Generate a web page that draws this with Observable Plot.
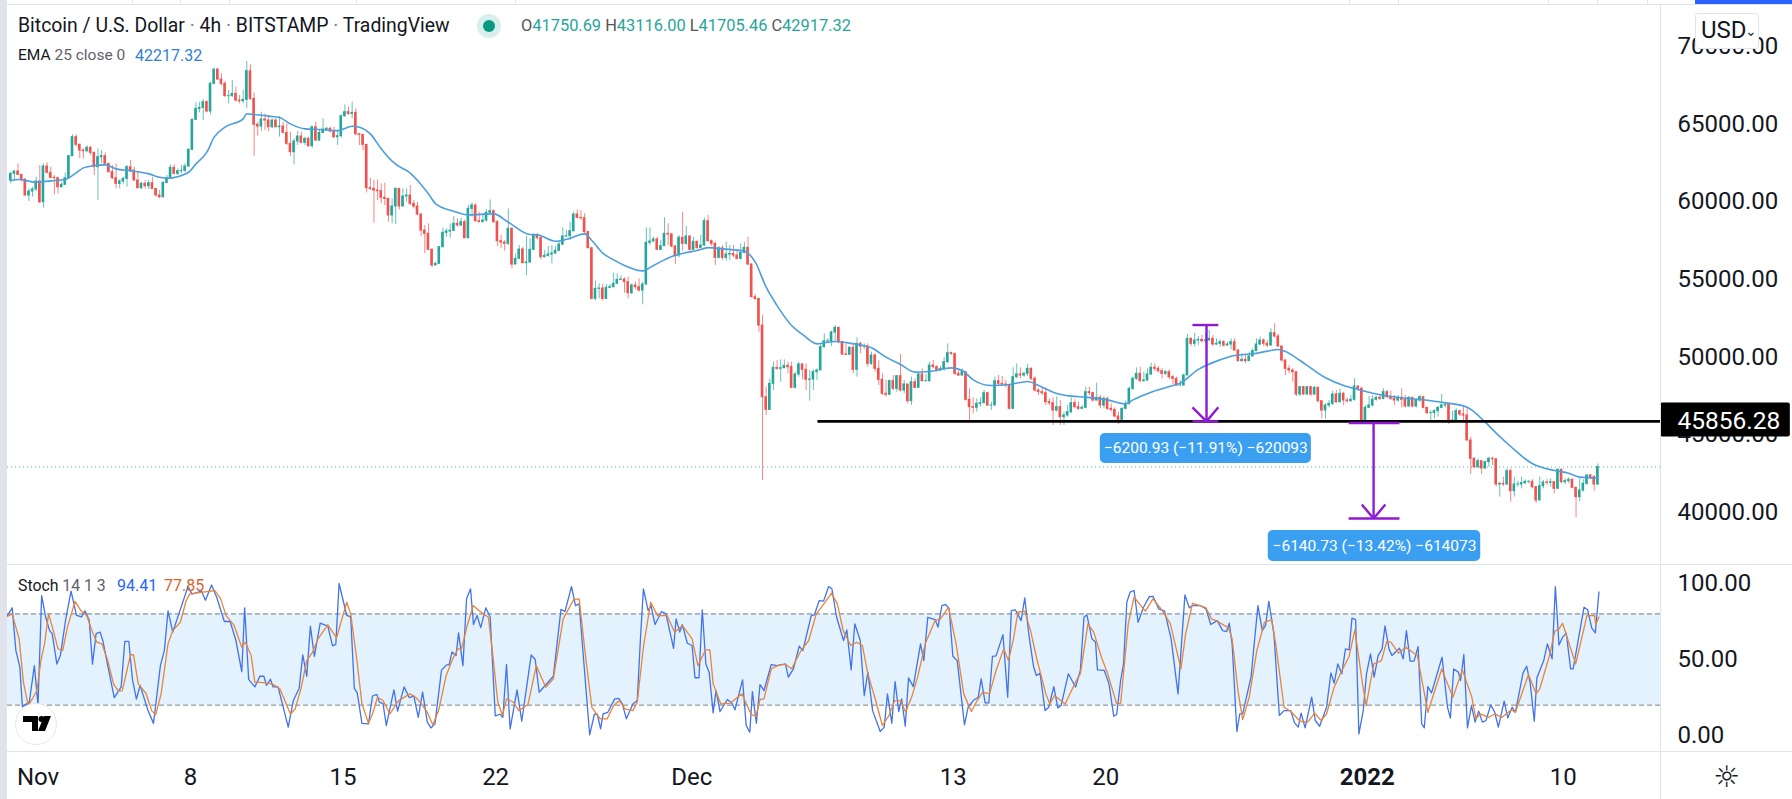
<!DOCTYPE html>
<html><head><meta charset="utf-8">
<script src="https://cdn.jsdelivr.net/npm/d3@7"></script>
<script src="https://cdn.jsdelivr.net/npm/@observablehq/plot@0.6"></script>
<style>
html,body{margin:0;padding:0;background:#fff}
#wrap{position:relative;width:1792px;height:799px;overflow:hidden;font-family:Roboto,sans-serif;color:#131722}
#wrap svg{display:block;position:relative}
.o{position:absolute;white-space:nowrap;line-height:1}
</style></head><body><div id="wrap"></div>
<script>
const firstOpen=61356;
const closes=[61785,61935,61720,61420,60391,60648,60777,61292,59962,62257,61850,61528,61506,60927,61077,61506,62922,64145,63651,63287,63244,63458,63137,62214,62858,62922,62429,61893,61506,61142,61292,61464,62214,62000,61356,60863,61142,60992,61185,60820,60391,60284,61206,61506,62171,61785,61957,61978,62257,63330,65260,65968,66032,66397,65796,67577,68499,67856,67577,66783,66783,66933,66504,66461,66547,68392,66612,64938,64831,65282,65217,64788,65217,64788,64831,64424,63716,63180,63866,64188,63780,64037,63565,64788,63930,64424,64638,64681,64509,64145,64209,65496,65754,65646,65711,64338,64295,63651,60863,
60820,60713,60670,60241,60177,59104,59683,60820,59683,60327,60391,59855,59683,59169,58139,57925,56895,55887,55994,57066,57989,58075,58118,58568,58461,58675,57646,59533,59748,58740,58675,58783,59276,59383,58675,57453,57367,57281,58246,55951,56316,56916,56037,56080,56895,57860,57646,56423,56509,56595,56659,56831,57238,57753,57774,58096,59169,58954,58933,58032,57002,53742,54385,54407,53742,54450,54493,54707,54964,54986,54814,54106,54600,54493,54278,54664,57345,57431,57560,56895,57131,57925,57882,57109,56530,57667,57281,57753,56895,57410,57024,57174,58740,57453,57281,56380,56981,56380,56595,56637,56530,56316,56702,57024,55951,53849,53742,52026,47414,46599,48272,49302,49237,49280,49430,49345,48015,48873,49516,
49174,48530,48552,49024,49131,50632,51019,51019,51576,51877,50954,50161,50139,50590,49174,50847,50675,50675,49560,50096,49238,48530,47630,47565,48445,47951,48766,47844,48230,47158,48380,48016,48874,48445,48445,49453,49345,49131,49238,49667,50246,50204,48917,48809,49024,47243,46772,46729,46986,47029,47672,46879,46879,48445,48273,48230,48166,46664,48702,48874,48809,48917,49238,48595,47844,47737,47672,47093,47029,46557,46772,46128,46235,46450,47029,46772,46664,46729,47737,47672,47200,47372,46879,47308,46664,46600,46171,45956,46664,46986,47951,48595,48917,48445,48488,48874,49303,49238,49088,48917,49024,48702,48595,48166,48166,48809,51169,50847,51061,51104,
51019,51062,51169,50805,50847,50955,50740,50805,50955,50419,49732,49818,49732,50032,50376,50805,51062,50847,50740,51534,51319,50676,49775,49239,49132,49024,47587,48059,47587,48059,47587,48016,47158,46558,46879,46987,47587,47094,47630,47201,47158,47244,48102,47952,45700,46729,46879,47244,47373,47308,47737,47416,47308,47201,47373,47244,46815,47373,46815,47201,47416,46729,46386,46386,46515,46729,46879,46922,45807,45914,46515,46300,46236,44627,43447,42911,43297,42825,43233,43447,43426,41796,41838,41796,42654,41367,41796,41796,41881,41967,41967,41624,40766,41688,41924,41903,41946,41517,42739,41946,42010,42096,41581,40980,41410,41839,42375,42268,41796,42917];
const highs=[61893,62000,62429,61721,61421,60820,60927,61571,62322,62429,62493,62214,61678,61571,61249,61850,62965,64295,64295,63716,63394,63608,63565,63180,63394,63287,63137,62429,62322,62429,61421,61571,62322,62643,62214,61893,61249,61356,61356,61571,60820,60713,61292,61678,62364,62364,62107,62322,62429,63394,65325,66354,66397,66569,66504,67684,68542,68542,68220,67727,67148,67791,67362,66826,67148,69014,68799,66998,65110,65754,65646,65539,65325,65325,65475,65110,65003,64467,64037,64509,64467,64145,64145,64853,65110,64574,65325,64788,64788,64788,64574,65539,66225,66075,66397,65968,64359,64252,63651,
61500,61357,61399,61142,61185,60177,60177,60885,60820,60820,60820,61035,60070,59962,59211,58461,58568,56959,56101,57109,58311,58246,58568,59040,58890,58933,58825,59748,59919,59855,59319,59212,59469,60112,59469,58783,57817,57496,59533,58311,56637,57174,57067,57753,57603,57925,57925,57710,56852,57109,57174,57109,57453,58311,58139,58675,59319,59469,59426,59212,58096,57002,54879,54707,54664,54664,54664,55393,55350,55243,55093,55136,54707,54814,55029,54814,58311,58311,57710,57710,57496,58954,58568,57967,57174,57817,59319,58396,57817,57710,57453,57817,58933,59104,57538,57388,57109,57174,57388,57174,57174,56852,57281,57388,57710,55994,54021,53742,52669,48058,48594,49666,49773,49816,49816,49666,49666,49023,49666,
49560,49560,49131,49174,49238,50847,51490,51169,51662,52027,51920,51019,50847,50675,50847,51233,50954,50847,50847,50311,50204,49774,48917,48488,48530,48809,48809,50161,48488,48230,48702,48595,48959,49238,48874,49667,49775,49453,49388,49946,50847,50311,50204,49238,49238,49024,47951,47372,47308,47372,47844,47737,47093,48702,48809,48745,48488,48230,49303,49560,49303,49024,49517,49303,48745,47951,48016,48016,47308,47372,47415,47200,46450,46879,47372,47243,47093,46879,48058,48058,47737,48316,47522,47458,47415,46986,46729,46450,46729,47158,48058,48702,49303,49346,49024,49238,49603,49560,49388,49238,49131,49174,48809,48702,48488,48917,51448,51233,51533,51319,
51384,51534,51705,51384,51169,51105,51062,50955,51169,51169,50461,50204,50097,50311,50526,51169,51276,51169,51062,51813,52134,51448,50676,49818,49453,49239,49024,48102,48102,48102,48102,48102,48059,47158,46987,47201,47802,47845,47952,47737,47373,47523,48595,48102,48059,46879,47458,47523,47458,47523,47952,47845,47802,47523,47523,47952,47523,47458,47373,47308,47523,47416,46729,46558,46600,46815,47587,47094,46987,46515,46665,46558,46815,46665,44842,43512,43447,43233,43297,43555,43555,43126,41946,42268,42804,42804,42268,42010,42268,42096,42053,42096,41667,42268,42053,42096,42160,41946,42804,42804,42160,42225,42160,41624,42160,42096,42439,42439,42375,43116];
const lows=[61142,61292,61678,61249,60348,60005,60284,60648,59855,59576,61785,61464,60434,60498,60863,61077,61464,62922,63501,62750,62750,63137,62965,61678,60069,62429,62364,61850,61421,60820,60820,61077,60927,61893,61292,60820,60777,60820,60777,60777,60284,60177,60220,61142,61464,61721,61678,61785,61893,62214,63287,65217,65711,65217,65711,65582,67512,67791,67427,66719,66290,66719,66397,66290,66290,66011,66504,62922,64209,64509,64574,64509,64681,64724,64145,64359,63608,62901,62364,63608,63716,63608,63501,63437,63866,63866,64359,64509,64424,64037,63608,64080,65432,65539,65325,64252,63608,63287,60563,
60713,58611,60070,59855,59748,58675,58568,58525,59469,59641,59962,59748,59533,59104,57753,56637,56852,55737,55887,55994,57024,57710,57646,58096,58354,58396,57603,57603,58997,58675,58675,58675,58675,59212,58611,57109,56959,56809,57174,55672,55994,56251,55994,55243,56037,56852,57539,56251,56380,56423,55994,56595,56788,57174,57710,57496,58032,58890,58783,57925,56959,53677,53635,53742,53592,53742,54385,54450,54707,54921,54106,53742,54021,54321,54171,53356,54600,57174,57388,56852,56852,57109,57174,57024,55951,56380,56809,57174,56809,56852,56895,56959,57109,57388,57109,55887,56316,56208,56166,56208,56380,56251,56251,56637,55887,53806,53635,51597,42053,46234,46556,47843,49130,48379,49237,48916,47950,47950,48701,
48530,47844,47158,47844,48488,49131,50590,50890,50675,50954,50847,50096,50096,50096,48916,48702,50203,50461,49346,49453,49024,48166,47522,47415,47522,47844,47737,47737,47630,46986,46879,47951,48016,48380,48380,48380,49238,49024,49088,49088,49560,50096,48809,48745,48745,47158,45913,46342,46450,46772,46986,46815,46557,46879,48166,48101,48016,46600,46664,48595,48595,48702,48745,48488,47737,47522,47522,46879,46879,45592,46450,45592,45592,46128,46342,46664,46557,46600,46664,47522,47093,47158,46664,46664,46557,46450,46085,45656,45956,46600,46879,47844,48488,48380,48380,48445,48809,49088,48959,48595,48809,48530,48230,48101,48101,48166,48809,50675,50632,50740,
50890,50848,51019,50676,50740,50633,50633,50676,50461,50376,49668,49668,49561,49732,50032,50376,50740,50676,50590,50676,51234,50633,49668,48810,48917,48381,47458,47458,47523,47523,47458,47523,47029,46021,46021,46729,46879,46987,47029,46879,47029,47094,47158,47802,45657,45657,46665,46772,47158,47201,47244,47308,47201,46879,47094,46729,46729,46772,46729,46729,47094,46665,46300,45807,46021,46129,46665,46729,45657,45807,45871,46172,45914,44584,42439,42804,42804,42439,42804,42911,43018,41624,40980,41667,41731,40659,40980,41624,41517,41796,41839,41517,40594,40766,41517,41731,41624,41195,41517,41839,41796,41839,41517,39651,40659,41303,41731,42096,41367,41731];
const emaBars=[0,2,7,11,15,18,20,23,26,29,33,38,41,43,49,51,54,56,59,64,65,67,71,74,77,81,85,90,94,96,99,102,105,108,109,112,115,117,122,126,133,137,143,145,150,154,158,160,163,166,169,174,177,182,186,189,192,196,202,205,208,211,215,218,222,224,227,232,237,241,245,249,253,259,262,265,270,275,280,283,287,292,296,302,307,309,314,320,322,327,333,337,342,346,349,351,355,362,367,371,375,383,388,395,401,406,409,413,419,425,429,432,437];
const emaVals=[61356,61420,61250,61335,61420,61850,62170,62320,62364,62107,61978,61785,61570,61506,61892,62429,63180,64145,64790,65325,65650,65600,65500,65410,65000,64680,64640,64570,64850,64790,64360,63400,62600,62110,62000,61360,60500,59855,59383,59147,59210,58675,57880,57860,57450,57645,57925,57500,56680,56250,55890,55540,55890,56470,56720,56850,57040,56960,56810,56100,54490,53310,52025,51450,50847,50910,50997,50847,50590,49990,49517,49024,49067,49300,49130,48530,48166,48230,48423,48166,47737,47480,47415,47243,46986,47243,47737,48166,48316,49200,49818,50097,50204,50376,50483,50354,49775,48660,48166,47909,47673,47373,47265,47051,46772,45807,45099,44241,43126,42696,42525,42268,42217];
const stochK=[[-0.9,79],[0.4,84],[1.4,56],[2.5,45],[3.2,19],[5.1,22],[6.5,46],[7.5,20],[8.5,92],[9.6,78],[10.7,69],[11.4,67],[12.7,47],[13.7,53],[15.1,76],[16.6,95],[18.1,79],[19.5,78],[20.4,82],[21.6,76],[22.5,47],[23.5,67],[24.6,68],[25.4,62],[26.7,46],[28.5,25],[30.4,32],[31.4,62],[32.5,62],[33.5,37],[34.6,24],[35.6,33],[37.8,16.4],[39.3,8],[41.2,46],[42.3,56],[43.3,82],[44.6,68],[46.7,83],[48.8,98],[49.9,93],[52.5,95],[53.6,89],[55.3,99],[56.7,91],[58.8,75],[60.4,75],[62,62.5],[63.6,42],[64.4,84],[65.5,37],[67.2,32],[68.6,39],[69.7,39],[70.4,33],[71.5,37],[72.2,32],[73.6,32],[76.4,5.5],[77.8,23],[79.4,31],[80.4,53],[81.5,39],[82.5,72],[83.6,52],[85.2,74],[87.3,72],[88.6,59],[89.5,60],[90.4,100],[91.5,89],[92.5,79],[93.6,78],[94.6,31],[95.4,28],[96.7,8],[98.5,7.7],[99.6,26],[100.8,27],[101.5,22],[102.5,21],[103.4,6.6],[105.5,30],[106.5,16],[108.3,32],[109.7,25],[111,26],[112.2,12],[113.4,28.5],[114.7,8.8],[115.7,5],[116.8,7.7],[118.6,43],[120,46.5],[120.7,46.5],[121.5,55],[122.6,52.6],[123.3,67.5],[124.5,46],[125.5,90],[126.6,96.5],[127.4,73],[128.4,79],[129.4,71],[130.8,84],[132,78],[133.4,13],[134.7,14],[135.5,12],[136.5,46.7],[137.5,4.4],[139.4,30],[140.7,9.4],[143.3,53],[144.4,50],[145.5,28.5],[149.4,39],[151.5,83],[152.6,81.6],[154.4,98],[155.5,85.5],[156.5,86.6],[159.4,0.4],[160.7,14],[161.5,14],[162.4,4.4],
[163.1,14.2],[164.4,15.3],[166.3,24.1],[167.4,24.5],[168.4,20.8],[169.5,11],[171.3,20.8],[172.5,23],[173.4,64.7],[174.2,96.5],[175.5,82.2],[176.3,85.5],[177.4,73],[179.2,81.6],[180.4,80],[182.5,57.4],[183.2,76.7],[184.2,68],[184.9,73],[186.3,60.7],[187.6,59.2],[188.4,38],[189.5,38],[190.4,82.7],[191.4,47],[192.3,41.7],[193.4,14.9],[194.2,29.6],[195.3,15.8],[197.3,23.7],[198.6,21.3],[199.4,16.9],[201.5,36.6],[202.5,6.6],[203.5,2.2],[204.2,28.9],[205.3,8.1],[206.3,33.5],[207.4,29.6],[209.4,46.7],[211,46],[213.3,47.1],[214.1,38.4],[215.5,43.9],[217.1,58.8],[218.1,55.9],[220.4,78.9],[221.3,79.4],[222.6,88.8],[223.8,88.4],[225.2,98],[226.1,96.5],[227.4,77.8],[229.3,62.5],[230.2,69.5],[231.4,43.2],[232.4,73.5],[233.9,62.5],[235,26.3],[236,41.7],[237.3,16.4],[239.4,2.6],[240.5,5.5],[241.4,27.4],[242.6,8.1],[243.5,35.5],[244.5,15.8],[245.3,24.1],[246.3,6.1],[247.2,37.9],[248.5,32.2],[250.5,60.3],[251.4,49.3],[252.5,77.8],[254.5,76.3],[255.3,71.3],[256.4,85.5],[257.4,86.2],[258.4,83.3],[259.4,52.2],[260.6,49.3],[262.6,7],[263.6,18.6],[265,23],[266.4,25.2],[267.2,37.3],[268.3,21.5],[269.3,21.5],[270.3,52],[271.3,52.4],[273.2,66.4],[274.5,25.2],[275.5,82.2],[276.6,82.7],[278.2,75.6],[279.2,90.6],[280.3,66.9],[281.6,45.6],[282.4,39.5],[283.4,41],[284.8,16.4],[285.8,18.6],[287.2,32.2],[288.3,18.2],[289.2,19.7],[291.2,40.6],[293.2,31.8],[294.5,42.8],[295.5,77.8],[296.3,79.4],[297.7,63.6],[298.7,61.4],[299.2,43.2],[301.1,42.8],[302.4,34],[303.7,12.7],[304.5,13.8],[305.6,36.2],[306.4,47.1],[307.3,87.7],[308.2,94.3],[309.3,95.4],[310.4,74.5],[311.9,84.4],[313.5,91.4],[314.5,91.6],[316.1,83.3],[317.7,81.8],[319.5,63.6],[321.4,27.4],[323.3,92.5],[324.5,84],[325.4,85.5],[327.5,85.5],
[329.1,83.3],[330.4,73],[332.2,75.6],[333.7,69],[334.8,68.4],[335.5,73.9],[336.3,60.3],[337.6,2.6],[338.4,14.2],[339.2,14.2],[341.5,38.4],[343.4,85.5],[344.6,69],[345.5,72.4],[346.4,88.2],[347.8,66.9],[349.3,13.2],[350.6,16.4],[352.4,16.4],[353.5,8.3],[354.5,5.5],[355.3,14.7],[356.4,5],[358.2,25.2],[359.2,9.9],[360.4,6.1],[362.3,18.6],[363.5,41.2],[364.4,34.4],[365.4,47.1],[366.5,40.6],[367.5,57],[368.5,56.3],[369.3,77.2],[370.3,76.3],[371.2,1.1],[372.4,16.4],[373.3,40.6],[374.4,53.7],[375.4,38.4],[376.5,52.6],[377.6,57],[378.4,72.1],[379.5,57],[380.3,52.6],[382.4,57.4],[383.4,50.4],[384.3,69],[385.3,48.9],[386.4,48.9],[387.5,58.5],[388.5,7.7],[389.2,5],[390.2,32.2],[391.2,28],[394.1,51.5],[395.6,18.6],[396.4,11.4],[397.3,43.8],[398.6,41.7],[399.2,36.2],[400.1,53.3],[401.1,5],[402.2,19.7],[403.2,8.8],[404.2,16],[405.2,8.8],[406.2,9.9],[407.5,20.2],[408.6,15.3],[409.6,5.5],[411.2,22.6],[412.2,11.6],[413.4,18.6],[414.3,15.3],[416.4,41.2],[417.4,45.6],[418.4,34],[419.5,9.4],[420.2,37.9],[422.1,49.3],[423.1,60.3],[424.4,50.4],[425.3,98],[426.3,59.6],[427.3,64.7],[428.3,67.3],[429.5,43.8],[430.2,43.8],[433.2,84.4],[434.2,82.7],[435.3,70.8],[436.3,67.5],[437.3,94.41]];
const stochD=[[-0.9,78.3],[0.4,80],[2.3,63.6],[3.5,35],[4.8,19.7],[6.2,25.2],[7.2,29.6],[8.3,49.3],[9.3,60.3],[10.4,80],[11.6,70.2],[13,57],[14.3,55.9],[15.6,71.3],[17.7,88.2],[19.3,82.2],[20.9,78.9],[22.5,68],[23.7,61.4],[25.1,60.3],[26.7,49.3],[28.3,34],[29.6,29.2],[30.7,29.6],[33,53.3],[33.8,53],[35.1,34],[37.2,27.8],[38.8,16.4],[39.9,13.6],[41.4,27.4],[43.3,60.3],[44.6,69],[46.7,74.5],[48.3,88.8],[49.3,93.2],[53,94.3],[56.2,95.4],[57.8,89.9],[59.3,78.9],[61.5,72.4],[63.6,58.1],[64.6,61.4],[66.2,52.6],[67.2,35],[68.8,35],[72,34],[74.1,30.7],[77,14.2],[78.3,17.5],[79.9,30.7],[81.5,49.3],[83.1,54.8],[84.6,63.6],[87.3,72.8],[89.7,64.2],[92.5,87.7],[93.6,80],[95.2,51.5],[96.7,20.8],[98.5,8.1],[99.6,14.2],[101,25.2],[102.5,23],[104.4,14.2],[106.8,23],[109.9,27.4],[111.5,25.2],[113.1,20.8],[114.7,15.3],[116.2,7],[117.8,16.4],[119.9,39.5],[121.5,49.3],[123.1,57],[124.1,57],[125.7,72.4],[127.3,85.5],[128.9,82.2],[131.5,77.8],[132.6,55.9],[134.1,21.9],[135.4,13.2],[136.5,24.1],[138.4,21.9],[139.9,16.4],[142.4,20.4],[144.7,46],[147.3,31.8],[149.4,37.3],[152.1,76.7],[155,89.5],[156.5,89.9],[158.4,49.3],[160,18.6],[162.3,10.9],
[164.2,10.9],[166,19.7],[167.6,23],[169.1,17.5],[171.3,16.4],[172.5,21.9],[174.2,58.1],[176.2,87.7],[178.1,78.9],[180.7,78.9],[182.8,68],[184.9,72.4],[187.6,63.6],[189.2,46],[191.3,56.3],[192.5,56.3],[193.4,34],[195.5,20.8],[198.1,21.3],[201.3,27.4],[203.9,13.8],[205.2,12.7],[206.3,23.7],[207.4,24.1],[209.4,43.8],[211.8,46.7],[213.4,46.7],[215,43.9],[217.6,55.9],[219.7,62.5],[221.8,80],[223.9,86.6],[226,93.6],[227.6,86.6],[229.2,69],[231.3,59.2],[232.9,61.4],[234.5,59.2],[236,40.6],[237.9,25.2],[240,6.6],[241.8,13.1],[243.4,23],[245,23],[246.4,15.3],[248.2,26.3],[249.7,38.4],[251.8,60.3],[254.5,75.6],[256,76.7],[258.2,84.4],[260.3,60.3],[262.4,27.4],[264.5,15.8],[266.1,23],[267.6,28.5],[269.5,27.4],[271.3,42.8],[273.4,57],[274.7,49.3],[276.1,63.6],[277.3,81.1],[279.2,81.8],[280.8,69],[282.4,51.5],[285,27.4],[286.1,20.8],[287.4,26.3],[290.3,20.8],[293.4,36.2],[294.5,40.6],[296.6,73.5],[298.2,68],[300.3,51.5],[301.9,41.7],[304.5,20.8],[305.6,21.3],[307.7,73.5],[309.3,91],[312.4,81.8],[314.5,89.9],[317.1,82.2],[319.3,73.5],[322.2,43.9],[323.5,66.9],[325.4,87],[327.5,85.5],
[329.1,84],[330.6,76.7],[332.2,75.2],[335.3,70.8],[336.3,63.6],[337.9,29.6],[339.2,10.5],[341,25.2],[343.1,55.9],[345.2,74.5],[347.2,76.3],[348.3,60.3],[350.6,18.6],[352.4,16],[355,9.4],[357.1,8.8],[359,14.7],[360.8,9.9],[362.3,14.2],[364.4,31.8],[366,40.1],[368.5,52],[370.1,69.5],[372.2,34],[373.2,19.7],[375.3,47.1],[377.4,49.3],[378.9,62],[380,61.4],[382.1,54.2],[384.1,58.1],[387.3,52.6],[390.2,15.3],[394,43.8],[397.1,25.2],[399.7,43.2],[402.3,25.2],[403.4,11],[404.6,14.2],[407,12],[408.6,14.2],[410.6,12],[413.2,16.9],[414.3,15.3],[417.9,40.1],[420,27.4],[421,30.7],[423.6,52],[425.2,69],[426.2,69.7],[427.3,73.9],[428.8,62.5],[430.9,47.1],[434,78.9],[436.1,78.9],[436.4,73],[437.3,77.85]];
const priceTicks=[40000,45000,50000,55000,60000,65000,70000];
const stochTicks=[0,50,100];
const timeTicks=["2021-11-01","2021-11-08","2021-11-15","2021-11-22","2021-12-01","2021-12-13","2021-12-20","2022-01-10"];
const timeLabels=["Nov","8","15","22","Dec","13","20","10"];
const yearTick="2022-01-01", yearLabel="2022";
const lastClose=42917.32, supportLevel=45856.28;
const supportStart="2021-12-06T19:00Z";
const measureA={left:"2021-12-23T23:30Z",mid:"2021-12-24T15:00Z",right:"2021-12-25T04:00Z",top:52057,bottom:45856,head:46760,label:"\u22126200.93 (\u221211.91%) \u2212620093",box:["2021-12-19T18:00Z","2021-12-29T10:30Z",45077,43146]};
const measureB={left:"2021-12-31T03:30Z",mid:"2022-01-01T07:00Z",right:"2022-01-02T11:30Z",headL:"2021-12-31T18:00Z",headR:"2022-01-01T20:00Z",top:45750,bottom:39610,head:40508,label:"\u22126140.73 (\u221213.42%) \u2212614073",box:["2021-12-27T11:00Z","2022-01-06T05:00Z",38836,36841]};

const GREEN="#26a69a",RED="#ef5350",PURPLE="#8e1bd3",PILL="#3b9ff1",AX="#131722";
const t0=Date.UTC(2021,9,30,18);
const barDate=i=>new Date(t0+i*4*3600e3);
const d=s=>new Date(s);
const xDomain=[new Date("2021-10-30T14:24Z"),new Date("2022-01-14T11:00Z")];
const font="Roboto,sans-serif";

const candles=closes.map((c,i)=>{const o=i?closes[i-1]:firstOpen;return {i,o,c,h:Math.max(highs[i],o,c),l:Math.min(lows[i],o,c),color:c>=o?GREEN:RED};});
const ema=emaBars.map((b,j)=>({t:barDate(b),v:emaVals[j]}));
const kLine=stochK.map(([b,v])=>({t:barDate(b),v}));
const dLine=stochD.map(([b,v])=>({t:barDate(b),v}));
const seg=(x1,y1,x2,y2)=>({x1:d(x1),y1,x2:d(x2),y2});
const A=measureA,B=measureB;
const measureSegs=[
 seg(A.left,A.top,A.right,A.top),seg(A.left,A.bottom,A.right,A.bottom),seg(A.mid,A.top,A.mid,A.bottom),
 seg(A.left,A.head,A.mid,A.bottom),seg(A.right,A.head,A.mid,A.bottom),
 seg(B.left,B.top,B.right,B.top),seg(B.left,B.bottom,B.right,B.bottom),seg(B.mid,B.top,B.mid,B.bottom),
 seg(B.headL,B.head,B.mid,B.bottom),seg(B.headR,B.head,B.mid,B.bottom)];
const pills=[A,B].map(m=>({x1:d(m.box[0]),x2:d(m.box[1]),y1:m.box[2],y2:m.box[3],label:m.label,xm:new Date((+d(m.box[0])+ +d(m.box[1]))/2),ym:(m.box[2]+m.box[3])/2}));

const price=Plot.plot({width:1792,height:564,marginTop:5,marginBottom:0,marginLeft:7,marginRight:132,
 style:{fontFamily:font,background:"transparent",overflow:"visible"},
 x:{type:"utc",domain:xDomain,axis:null},
 y:{domain:[36647,72619],label:null},
 marks:[
  Plot.ruleY([lastClose],{stroke:GREEN,strokeWidth:1,strokeDasharray:"1,3",strokeOpacity:.8,x1:xDomain[0],x2:xDomain[1]}),
  Plot.ruleX(candles,{x:k=>barDate(k.i),y1:"l",y2:"h",stroke:"color",strokeWidth:1,strokeOpacity:.7}),
  Plot.rect(candles,{x1:k=>barDate(k.i-.36),x2:k=>barDate(k.i+.36),y1:"o",y2:"c",fill:"color",insetTop:-.5,insetBottom:-.5}),
  Plot.line(ema,{x:"t",y:"v",stroke:"#4c9edf",strokeWidth:1.6,curve:"monotone-x"}),
  Plot.axisY({anchor:"right",ticks:priceTicks,tickSize:0,tickPadding:17,label:null,tickFormat:d3.format(".2f"),fontSize:24,fill:AX}),
  Plot.ruleY([supportLevel],{x1:d(supportStart),x2:xDomain[1],stroke:"#000",strokeWidth:2.6}),
  Plot.rect([{}],{x1:xDomain[1],x2:d("2022-01-20T10:00Z"),y1:44850,y2:47040,fill:"#000",rx:2}),
  Plot.text([supportLevel],{x:xDomain[1],y:d=>d,text:d=>d.toFixed(2),dx:17,textAnchor:"start",fill:"#fff",fontSize:24.5}),
  Plot.link(measureSegs,{x1:"x1",y1:"y1",x2:"x2",y2:"y2",stroke:PURPLE,strokeWidth:2.4}),
  Plot.rect(pills,{x1:"x1",x2:"x2",y1:"y1",y2:"y2",fill:PILL,rx:5}),
  Plot.text(pills,{x:"xm",y:"ym",text:"label",fill:"#fff",fontSize:15.5})
 ]});

const stoch=Plot.plot({width:1792,height:235,marginTop:0,marginBottom:48,marginLeft:7,marginRight:132,
 style:{fontFamily:font,background:"transparent",overflow:"visible"},
 x:{type:"utc",domain:xDomain,axis:null},
 y:{domain:[-10.5,112.5],label:null},
 marks:[
  Plot.rect([{}],{x1:xDomain[0],x2:xDomain[1],y1:20,y2:80,fill:"#e3f2fd"}),
  Plot.ruleY([20,80],{x1:xDomain[0],x2:xDomain[1],stroke:"#787b86",strokeWidth:1,strokeDasharray:"5,3"}),
  Plot.line(kLine,{x:"t",y:"v",stroke:"#4273e8",strokeWidth:1.3}),
  Plot.line(dLine,{x:"t",y:"v",stroke:"#e8843c",strokeWidth:1.3}),
  Plot.axisY({anchor:"right",ticks:stochTicks,tickSize:0,tickPadding:17,label:null,tickFormat:d3.format(".2f"),fontSize:24,fill:AX}),
  Plot.axisX({anchor:"bottom",ticks:timeTicks.map(s=>new Date(s)),tickSize:0,tickPadding:16,label:null,tickFormat:(v)=>timeLabels[timeTicks.findIndex(s=>+new Date(s)===+v)],fontSize:24,fill:AX}),
  Plot.axisX({anchor:"bottom",ticks:[new Date(yearTick)],tickSize:0,tickPadding:16,label:null,tickFormat:()=>yearLabel,fontSize:24,fontWeight:"bold",fill:AX})
 ]});

const wrap=document.getElementById("wrap");
wrap.append(price,stoch);
function box(css,html=""){const e=document.createElement("div");e.className="o";e.style.cssText=css;e.innerHTML=html;wrap.append(e);return e;}
// chrome
box("left:0;top:0;width:7px;height:799px;background:#e0e3eb");
box("left:7px;top:4px;width:1785px;height:1px;background:#e0e3eb");
box("left:7px;top:564px;width:1785px;height:1px;background:#e0e3eb");
box("left:7px;top:751px;width:1785px;height:1px;background:#e0e3eb");
box("left:1660px;top:4px;width:1px;height:795px;background:#e0e3eb");
[132,180,229,356,515,1349,1398,1548,1597,1647].forEach(x=>box(`left:${x}px;top:0;width:1px;height:4px;background:#e0e3eb`));
box("left:1695px;top:0;width:97px;height:4px;background:#2962ff");
// legends
box("left:18px;top:16px;font-size:19.4px","Bitcoin / U.S. Dollar <span style='color:#787b86'>·</span> 4h <span style='color:#787b86'>·</span> BITSTAMP <span style='color:#787b86'>·</span> TradingView");
box("left:477px;top:14px;width:24px;height:24px;border-radius:50%;background:rgba(38,166,154,.18)");
box("left:483px;top:20px;width:12px;height:12px;border-radius:50%;background:#089981");
const ohlc=[["O","41750.69"],["H","43116.00"],["L","41705.46"],["C","42917.32"]];
box("left:521px;top:18px;font-size:16.4px;color:#26a69a",ohlc.map(([a,b])=>`<span style="color:#555">${a}</span>${b}`).join(" "));
box("left:18px;top:48px;font-size:15.5px","EMA <span style='color:#5d606b'>25 close 0</span>");
box("left:135px;top:48px;font-size:16px;color:#2f7fd6","42217.32");
box("left:18px;top:578px;font-size:15.8px","Stoch <span style='color:#5d606b'>14 1 3</span>");
box("left:117px;top:578px;font-size:16px;color:#2962ff","94.41");
box("left:164px;top:578px;font-size:16px;color:#d9632a","77.85");
// logo
box("left:15px;top:703px;width:40px;height:40px;border-radius:50%;background:#fff;border:1px solid #e6e8ee",
 `<svg width="40" height="40" viewBox="0 0 40 40" style="position:absolute;left:0;top:0"><path d="M7 12h15v15h-6v-9H7z" fill="#000"/><circle cx="25.5" cy="15" r="3" fill="#000"/><path d="M28 12h7l-6 15h-7z" fill="#000"/></svg>`);
// USD box
box("left:1695px;top:13px;width:62px;height:34px;background:#fff;border:1px solid #e0e3eb;border-radius:3px");
box("left:1701px;top:18px;font-size:24px","USD");
box("left:1745px;top:24px;font-size:14px;color:#333","\u2304");
// settings
box("left:1713px;top:762px;font-size:30px;font-family:'DejaVu Sans';color:#131722","\u263C");
</script></body></html>
